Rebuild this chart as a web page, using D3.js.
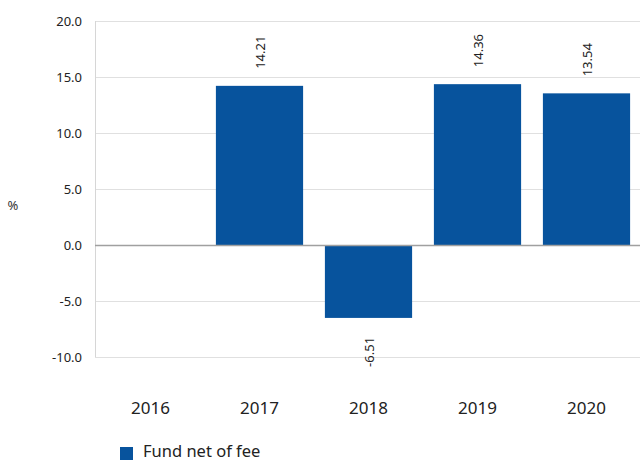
<!DOCTYPE html>
<html>
<head>
<meta charset="utf-8">
<script src="https://cdn.jsdelivr.net/npm/d3@7"></script>
<style>
  body { margin: 0; background: #fff; }
  svg { display: block; font-family: "Noto Sans", "Open Sans", sans-serif; }
</style>
</head>
<body>
<div id="chart"></div>
<script>
// chart data
var years = ["2016", "2017", "2018", "2019", "2020"],
    fundNet = [null, 14.21, -6.51, 14.36, 13.54],
    yTicks = [-10, -5, 0, 5, 10, 15, 20],
    seriesName = "Fund net of fee";

var w = 640,
    h = 462,
    margin = {top: 21, right: 0, bottom: 105, left: 95};

var svg = d3.select("#chart")
    .append("svg")
    .attr("width", w)
    .attr("height", h);

var x = d3.scaleBand()
    .domain(years)
    .range([margin.left + 1, w - margin.right + 1])
    .paddingInner(0.2)
    .paddingOuter(0.1);

var y = d3.scaleLinear()
    .domain([-10, 20])
    .range([h - margin.bottom, margin.top]);

// plain hyphen for negatives, like the original
var fmt1 = function (d) { return d.toFixed(1); };

// gridlines
svg.append("g")
    .selectAll("line")
    .data(yTicks)
    .enter().append("line")
    .attr("x1", margin.left)
    .attr("x2", w)
    .attr("y1", function (d) { return Math.round(y(d)) + 0.5; })
    .attr("y2", function (d) { return Math.round(y(d)) + 0.5; })
    .attr("stroke", "#e0e0e0")
    .attr("stroke-width", 1);

// left axis line
svg.append("line")
    .attr("x1", margin.left + 0.5)
    .attr("x2", margin.left + 0.5)
    .attr("y1", y(20))
    .attr("y2", y(-10))
    .attr("stroke", "#d6d6d6");

// y tick labels
var yAxis = d3.axisLeft(y)
    .tickValues(yTicks)
    .tickSize(0)
    .tickPadding(13)
    .tickFormat(fmt1);

var gy = svg.append("g")
    .attr("transform", "translate(" + margin.left + ",0)")
    .call(yAxis);
gy.select(".domain").remove();
gy.selectAll("text")
    .attr("font-size", 13)
    .attr("fill", "#222")
    .attr("font-family", "Noto Sans");

// unit label
svg.append("text")
    .attr("x", 13)
    .attr("y", 210)
    .attr("text-anchor", "middle")
    .attr("font-size", 13)
    .attr("fill", "#333")
    .text("%");

// bars
var data = years.map(function (d, i) { return {year: d, value: fundNet[i]}; })
    .filter(function (d) { return d.value !== null; });

svg.append("g")
    .selectAll("rect")
    .data(data)
    .enter().append("rect")
    .attr("x", function (d) { return x(d.year); })
    .attr("width", x.bandwidth())
    .attr("y", function (d) { return y(Math.max(0, d.value)); })
    .attr("height", function (d) { return Math.abs(y(d.value) - y(0)); })
    .attr("fill", "#07539d");

// zero line
svg.append("line")
    .attr("x1", margin.left)
    .attr("x2", w)
    .attr("y1", Math.round(y(0)) + 0.5)
    .attr("y2", Math.round(y(0)) + 0.5)
    .attr("stroke", "#a0a0a0")
    .attr("stroke-width", 1.5);

// value labels, rotated
svg.append("g")
    .selectAll("text")
    .data(data)
    .enter().append("text")
    .attr("transform", function (d) {
        var cx = x(d.year) + x.bandwidth() / 2 + 5;
        var cy = d.value >= 0 ? y(d.value) - 17 : y(d.value) + 19;
        return "translate(" + cx + "," + cy + ") rotate(-90)";
    })
    .attr("text-anchor", function (d) { return d.value >= 0 ? "start" : "end"; })
    .attr("font-size", 13)
    .attr("fill", "#222")
    .text(function (d) { return d.value.toFixed(2); });

// x labels
var xAxis = d3.axisBottom(x).tickSize(0).tickPadding(0);
var gx = svg.append("g")
    .attr("transform", "translate(0,402)")
    .call(xAxis);
gx.select(".domain").remove();
gx.selectAll("text")
    .attr("font-size", 17)
    .attr("fill", "#222")
    .attr("font-family", "Noto Sans");

// legend
svg.append("rect")
    .attr("x", 120)
    .attr("y", 447)
    .attr("width", 13)
    .attr("height", 13)
    .attr("fill", "#07539d");

svg.append("text")
    .attr("x", 143)
    .attr("y", 457)
    .attr("font-size", 16.5)
    .attr("fill", "#222")
    .text(seriesName);
</script>
</body>
</html>
